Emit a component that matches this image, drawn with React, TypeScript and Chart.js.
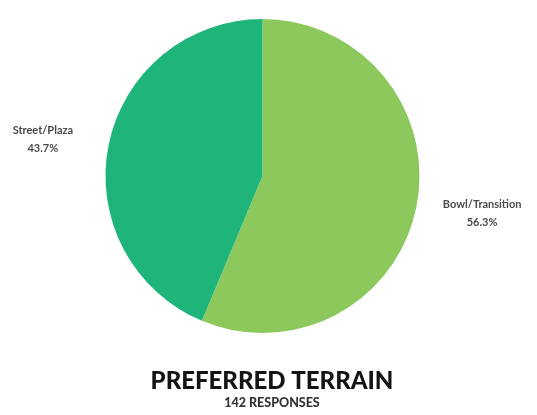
import React, { useEffect, useRef } from "react";
import { Chart, registerables } from "chart.js";

Chart.register(...registerables);

const categories = ["Bowl/Transition", "Street/Plaza"];
const shares = [56.3, 43.7];
const titleText = "PREFERRED TERRAIN";
const subtitleText = "142 RESPONSES";

const sliceColors = ["#8CC85B", "#1FB57A"];

const labelPlugin = {
  id: "outerLabels",
  afterDraw(chart: any) {
    const ctx = chart.ctx;
    const meta = chart.getDatasetMeta(0);
    ctx.save();
    ctx.fillStyle = "#4a4a4a";
    ctx.textAlign = "center";
    ctx.textBaseline = "middle";
    ctx.font = "bold 11px Lato, 'Liberation Sans', sans-serif";
    meta.data.forEach((arc: any, i: number) => {
      const { x, y, startAngle, endAngle, outerRadius } = arc.getProps(
        ["x", "y", "startAngle", "endAngle", "outerRadius"],
        true
      );
      const mid = (startAngle + endAngle) / 2;
      const dist = outerRadius + 67;
      const lx = x + Math.cos(mid) * dist;
      const ly = y + Math.sin(mid) * (outerRadius * 1.2);
      ctx.fillText(categories[i], lx, ly - 9);
      ctx.fillText(shares[i].toFixed(1) + "%", lx, ly + 9);
    });
    const cx = 272;
    ctx.fillStyle = "#141414";
    ctx.font = "900 24px Lato, sans-serif";
    ctx.fillText(titleText, cx, 381);
    ctx.fillStyle = "#333333";
    ctx.font = "900 12.5px Lato, sans-serif";
    ctx.fillText(subtitleText, cx, 403);
    ctx.restore();
  },
};

export default function App() {
  const ref = useRef<HTMLCanvasElement | null>(null);
  useEffect(() => {
    document.body.style.margin = "0";
    const canvas = ref.current;
    if (!canvas) return;
    const chart = new Chart(canvas, {
      type: "pie",
      data: {
        labels: categories,
        datasets: [
          {
            data: shares,
            backgroundColor: sliceColors,
            borderWidth: 0,
          },
        ],
      },
      options: {
        responsive: false,
        animation: false,
        layout: { padding: { top: 19, bottom: 82, left: 105, right: 117 } },
        plugins: {
          legend: { display: false },
          tooltip: { enabled: false },
          title: { display: false },
        },
      },
      plugins: [labelPlugin],
    });
    return () => chart.destroy();
  }, []);
  return (
    <div style={{ width: 537, height: 415, background: "#fff" }}>
      <canvas ref={ref} width={537} height={415} />
    </div>
  );
}
